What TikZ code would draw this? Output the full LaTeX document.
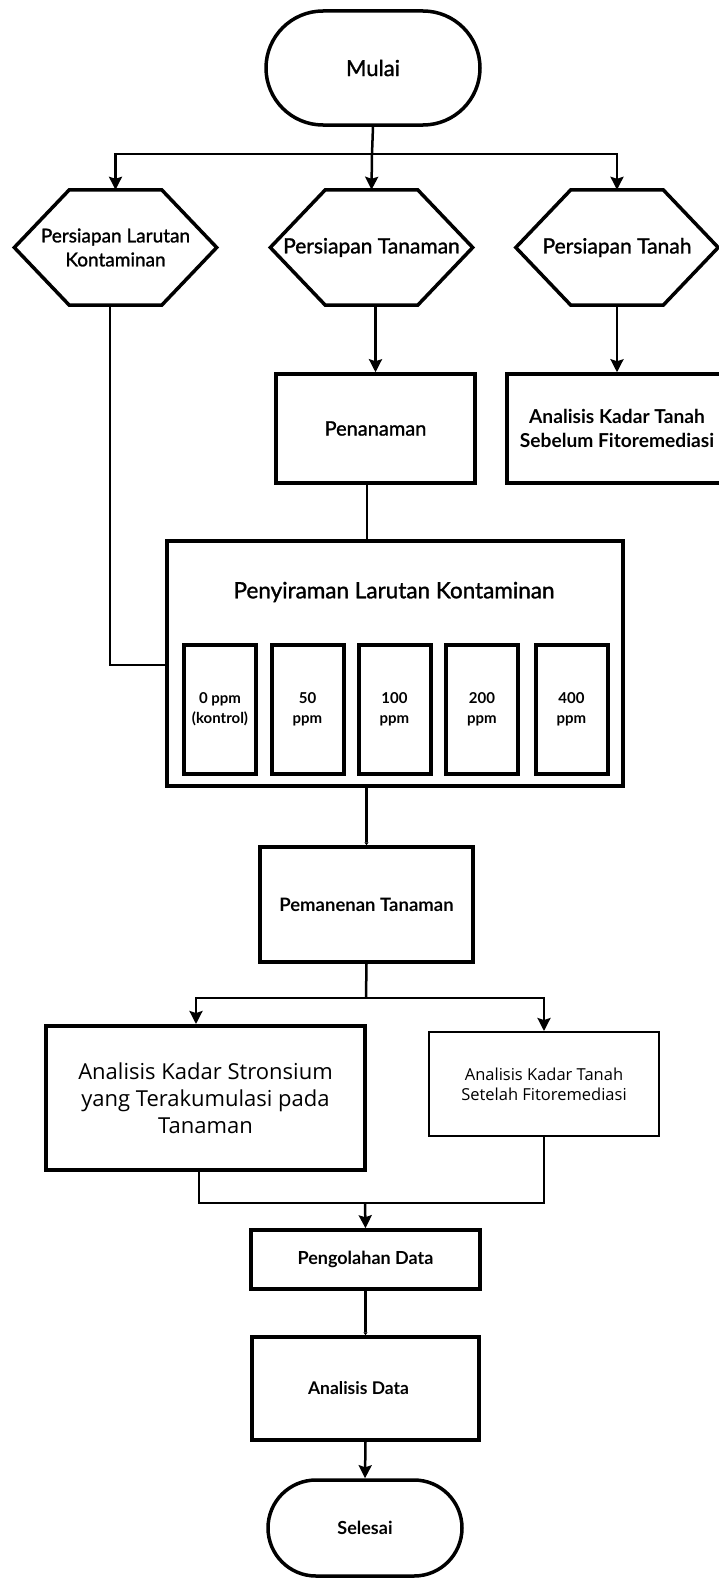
\documentclass[tikz,border=0pt]{standalone}
\usepackage{fontspec}
\setmainfont{Lato}
\newfontfamily\medfont[FakeBold=1.3]{Lato}
\newfontfamily\interfont{Open Sans}
\usetikzlibrary{arrows.meta,shapes.misc}
\tikzset{
  boxline/.style={draw=black, line width=3.5pt, line join=miter},
  procbox/.style={boxline, rectangle, inner sep=0pt, align=center},
  hexnode/.style={rectangle, inner sep=0pt, minimum width=202pt, minimum height=115pt, align=center},
  termbox/.style={boxline, rounded rectangle, inner sep=0pt},
  conn/.style={draw=black, line width=2.5pt},
  arr/.style={conn, -{Stealth[length=13pt,width=13pt,inset=2pt]}},
  tinyarr/.style={conn, -{Triangle[length=3pt,width=4pt]}},
  ppmbox/.style={boxline, line width=4pt, rectangle, minimum width=72pt, minimum height=129pt, inner sep=0pt, align=center, font=\bfseries\fontsize{15}{20}\selectfont},
}
\begin{document}
\begin{tikzpicture}[x=1pt,y=-1pt]
\useasboundingbox[fill=white] (0,0) rectangle (719,1579);

% terminal start
\node[termbox, minimum width=214pt, minimum height=114pt, font=\medfont\fontsize{22}{24}\selectfont] (mulai) at (373,68) {Mulai};

% hexagons
\node[hexnode, font=\medfont\fontsize{19}{24}\selectfont] (h1) at (115.5,247.5) {Persiapan Larutan\\Kontaminan};
\node[hexnode, font=\medfont\fontsize{21}{24}\selectfont] (h2) at (371.5,247.5) {Persiapan Tanaman};
\node[hexnode, font=\medfont\fontsize{21}{24}\selectfont] (h3) at (617,247.5) {Persiapan Tanah};
\foreach \n in {h1,h2,h3}
  \draw[boxline] (\n.west) -- ([xshift=55pt]\n.north west) -- ([xshift=-55pt]\n.north east)
     -- (\n.east) -- ([xshift=-55pt]\n.south east) -- ([xshift=55pt]\n.south west) -- cycle;

% second row
\node[procbox, minimum width=199pt, minimum height=109pt, font=\medfont\fontsize{20}{24}\selectfont] (pen) at (375.5,428.5) {Penanaman};
\node[procbox, minimum width=220pt, minimum height=109pt, font=\bfseries\fontsize{19.2}{24}\selectfont] (akt1) at (617,428.5) {Analisis Kadar Tanah\\Sebelum Fitoremediasi};

% big box
\node[procbox, minimum width=456pt, minimum height=245pt] (big) at (395,663.5) {};
\node[font=\medfont\fontsize{22.5}{24}\selectfont, inner sep=0pt] (bigt) at (394,592) {Penyiraman Larutan Kontaminan};
\node[ppmbox] (p1) at (220,709.5) {0 ppm\\(kontrol)};
\node[ppmbox] (p2) at (307.5,709.5) {50\\ppm};
\node[ppmbox] (p3) at (394.5,709.5) {100\\ppm};
\node[ppmbox] (p4) at (482,709.5) {200\\ppm};
\node[ppmbox] (p5) at (571.5,709.5) {400\\ppm};

% harvest
\node[procbox, minimum width=213pt, minimum height=115pt, font=\bfseries\fontsize{18.5}{22}\selectfont] (pem) at (366.5,904.5) {Pemanenan Tanaman};

% analyses
\node[procbox, line width=4pt, minimum width=319pt, minimum height=144pt, font=\interfont\fontsize{22}{27}\selectfont] (aks) at (205.5,1098) {Analisis Kadar Stronsium\\yang Terakumulasi pada\\Tanaman};
\node[procbox, line width=2pt, minimum width=230pt, minimum height=104pt, font=\interfont\fontsize{16.5}{20}\selectfont] (akt2) at (544,1084) {Analisis Kadar Tanah\\Setelah Fitoremediasi};

% data
\node[procbox, minimum width=229pt, minimum height=59pt, font=\bfseries\fontsize{18}{22}\selectfont] (olah) at (365.5,1259.5) {Pengolahan Data};
\node[procbox, minimum width=227pt, minimum height=103pt, font=\bfseries\fontsize{17.5}{22}\selectfont] (ad) at (365.5,1388.5) {\hspace*{-14pt}Analisis Data};
\node[termbox, minimum width=194pt, minimum height=96pt, font=\bfseries\fontsize{18}{22}\selectfont] (selesai) at (365,1528) {Selesai};

% helper coordinates
\coordinate (split1) at (372,154);
\coordinate (bendL) at (110,665);
\coordinate (penx) at (367,0);
\coordinate (split2) at (366,998);
\coordinate (lx) at (196,0);
\coordinate (lx2) at (199,0);
\coordinate (join) at (365,1203);

% connectors
\draw[conn] (mulai.south) -- (split1);
\draw[arr] (split1) -| (h1.north);
\draw[arr] (split1) -- (h2.north);
\draw[arr] (split1) -| (h3.north);
\draw[arr] (h2.south -| pen.north) -- (pen.north);
\draw[arr] (h3.south) -- (akt1.north -| h3.south);
\draw[conn] (h1.south -| bendL) -- (bendL) -- (bendL -| big.west);
\draw[conn] (pen.south -| penx) -- (big.north -| penx);
\draw[tinyarr] (big.south -| pem.north) -- (pem.north);
\draw[conn] (pem.south) -- (split2);
\draw[arr] (split2) -| (aks.north -| lx);
\draw[arr] (split2) -| (akt2.north);
\draw[conn] (aks.south -| lx2) |- (join);
\draw[conn] (akt2.south) |- (join);
\draw[arr] (join) -- (olah.north);
\draw[tinyarr] (olah.south) -- (ad.north);
\draw[arr] (ad.south) -- (selesai.north);
\end{tikzpicture}
\end{document}
